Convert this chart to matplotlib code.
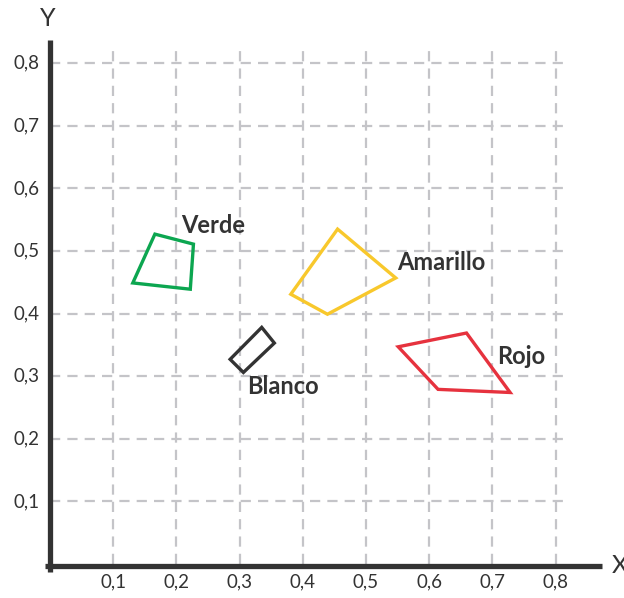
import matplotlib
matplotlib.use("Agg")
import matplotlib.pyplot as plt

# ---- data ----
tick_values = [0.1, 0.2, 0.3, 0.4, 0.5, 0.6, 0.7, 0.8]
tick_labels = ["0,1", "0,2", "0,3", "0,4", "0,5", "0,6", "0,7", "0,8"]

names = ["Verde", "Amarillo", "Blanco", "Rojo"]
verde_x = [0.166, 0.227, 0.222, 0.131]
verde_y = [0.527, 0.511, 0.439, 0.449]
amarillo_x = [0.455, 0.547, 0.439, 0.381]
amarillo_y = [0.535, 0.457, 0.399, 0.431]
blanco_x = [0.335, 0.355, 0.306, 0.285]
blanco_y = [0.378, 0.353, 0.306, 0.327]
rojo_x = [0.551, 0.659, 0.728, 0.614]
rojo_y = [0.347, 0.369, 0.274, 0.279]
label_x = [0.207, 0.549, 0.312, 0.707]
label_y = [0.540, 0.482, 0.284, 0.331]

colors = ["#0ca650", "#f8c82c", "#333333", "#e6323e"]
polys = [(verde_x, verde_y), (amarillo_x, amarillo_y),
         (blanco_x, blanco_y), (rojo_x, rojo_y)]

fig = plt.figure(figsize=(6.24, 5.98), dpi=100)
ax = fig.add_axes([0, 0, 1, 1])
ax.set_xlim(-0.0791, 0.9082)
ax.set_ylim(-0.0543, 0.901)
ax.axis("off")

grid_c = "#c4c4c8"
dash = (0, (4.6, 3.2))
grid_end = 0.823
for v in tick_values:
    ax.plot([0, grid_end], [v, v], color=grid_c, lw=1.6, linestyle=dash, zorder=1)
    ax.plot([v, v], [0, 0.83], color=grid_c, lw=1.6, linestyle=dash, zorder=1)

axis_c = "#333333"
ax.plot([0, 0], [-0.013, 0.837], color=axis_c, lw=3.8, solid_capstyle="butt", zorder=3)
ax.plot([-0.008, 0.873], [-0.003, -0.003], color=axis_c, lw=3.8, solid_capstyle="butt", zorder=3)

font = "Lato"
for v, lab in zip(tick_values, tick_labels):
    ax.text(-0.016, v, lab, ha="right", va="center", fontsize=13.5,
            family=font, color=axis_c)
    ax.text(v, -0.029, lab, ha="center", va="center", fontsize=13.5,
            family=font, color=axis_c)

ax.text(-0.003, 0.872, "Y", ha="center", va="center", fontsize=18, family=font, color=axis_c)
ax.text(0.901, -0.003, "X", ha="center", va="center", fontsize=18, family=font, color=axis_c)

for (px, py), c in zip(polys, colors):
    ax.fill(px, py, facecolor="none", edgecolor=c, lw=2.4, joinstyle="miter", zorder=4)

for n, lx, ly in zip(names, label_x, label_y):
    ax.text(lx, ly, n, ha="left", va="center", fontsize=17, family=font,
            fontweight="bold", color=axis_c, zorder=5)

fig.savefig("out.png", dpi=100)
